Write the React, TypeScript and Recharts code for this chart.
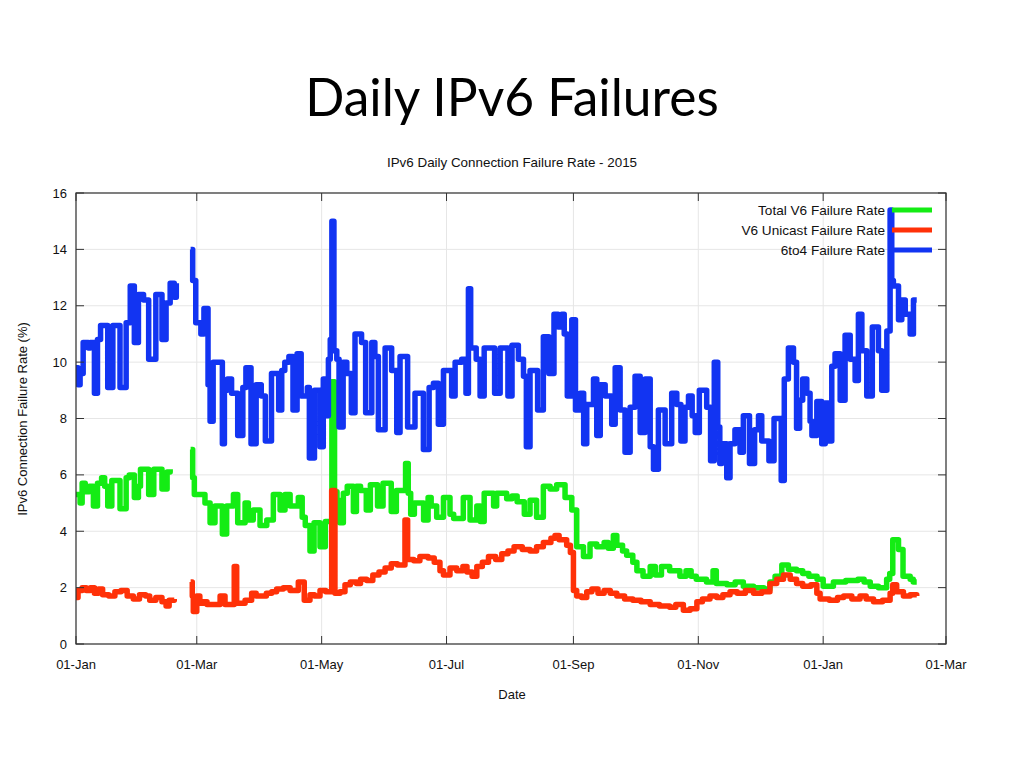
import { LineChart, Line, XAxis, YAxis, CartesianGrid } from 'recharts';

// x = days since 01-Jan-2015, y = daily failure rate (%)
const monthDays = [0, 59, 120, 181, 243, 304, 365, 425];
const monthLabels = ['01-Jan', '01-Mar', '01-May', '01-Jul', '01-Sep', '01-Nov', '01-Jan', '01-Mar'];
const rateTicks = [0, 2, 4, 6, 8, 10, 12, 14, 16];
const seriesNames = ['Total V6 Failure Rate', 'V6 Unicast Failure Rate', '6to4 Failure Rate'];
const seriesColors = ['#14ec14', '#ff3108', '#1234f2'];

type Pt = [number, number | null];

const totalV6: Pt[] = [
  [0, 5.3], [2, 5.0], [3, 5.7], [4.5, 5.4], [6.5, 5.6], [8.5, 4.9], [10.5, 5.7], [12.5, 5.9], [14, 5.6],
  [15.5, 4.9], [17.5, 5.8], [21.5, 4.8], [24.5, 5.9], [26, 6.0], [28.5, 5.2], [30.5, 5.6], [31.5, 6.2],
  [35.5, 5.3], [38, 6.2], [42, 5.5], [44.5, 6.1], [46, 6.2], [50, null],
  [56, 6.9], [57, 5.9], [57.8, 5.3], [63, 5.0], [65.5, 4.3], [67.9, 4.9], [71.5, 3.9], [73.6, 4.9],
  [76.9, 5.3], [79, 4.3], [82.6, 5.0], [84.2, 4.4], [86.6, 4.75], [89.9, 4.2], [93.2, 4.4], [96.4, 5.3],
  [99.7, 4.75], [102.1, 5.3], [104.6, 4.9], [108.6, 5.2], [110.5, 4.5], [112, 4.2], [114.3, 3.3],
  [116.3, 4.3], [119.2, 3.45], [121.8, 4.35], [125, 9.3], [126.3, 5.4], [127.5, 5.1], [128.8, 4.3],
  [130.6, 5.35], [132.5, 5.6], [135.5, 4.7], [137, 5.6], [139, 5.45], [141.8, 4.75], [143.8, 5.65],
  [147.3, 4.9], [150, 5.7], [154, 4.7], [156.5, 5.45], [161, 6.4], [162.3, 5.35], [163.5, 4.6],
  [165.3, 5.0], [169.8, 4.4], [172, 5.2], [173.5, 4.9], [176.2, 4.5], [179.5, 5.2], [182.7, 4.6],
  [184.5, 4.45], [189.2, 5.2], [192.5, 4.4], [195.8, 4.9], [197.5, 4.35], [199.4, 5.35], [204, 4.9],
  [205.5, 5.35], [210.4, 5.15], [213, 5.25], [215.5, 5.05], [219, 4.6], [221.8, 5.1], [225, 4.5],
  [228.3, 5.6], [231.6, 5.5], [234.8, 5.65], [238.9, 5.2], [242.2, 4.75], [244.6, 3.45], [247.9, 3.1],
  [251.1, 3.55], [254.4, 3.45], [258, 3.6], [260, 3.4], [262.5, 3.85], [264.2, 3.5], [267, 3.3],
  [269, 3.15], [272, 2.9], [274, 2.6], [277, 2.4], [280.5, 2.75], [283, 2.45], [286, 2.75], [290, 2.6],
  [295, 2.4], [298, 2.6], [300.5, 2.4], [303, 2.3], [308, 2.2], [311.2, 2.6], [312.8, 2.15], [318, 2.1],
  [322, 2.2], [326, 2.05], [331, 2.0], [336, 1.95], [339, 2.2], [341.5, 2.4], [344.8, 2.8], [348, 2.65],
  [352, 2.6], [355, 2.5], [358, 2.4], [362, 2.3], [365, 2.05], [370, 2.2], [376, 2.25], [382, 2.3],
  [385, 2.2], [388, 2.05], [392, 2.0], [396, 2.3], [397.5, 2.5], [399, 3.7], [401.8, 3.35], [404, 2.4],
  [407.5, 2.3], [409, 2.2], [410.7, 2.2],
];

const unicastV6: Pt[] = [
  [0, 1.65], [1, 1.9], [3, 2.0], [5, 1.9], [7, 2.0], [9, 1.8], [11, 1.95], [13, 1.75], [16, 1.7],
  [19, 1.85], [22, 1.9], [25, 1.7], [28, 1.6], [31, 1.75], [34, 1.7], [36, 1.55], [39, 1.65], [42, 1.5],
  [44, 1.35], [45.5, 1.55], [48, 1.6], [50, null],
  [56, 2.2], [56.8, 1.7], [57.3, 1.15], [59, 1.7], [60.5, 1.45], [62.2, 1.5], [64, 1.4], [70.4, 1.7],
  [72.8, 1.4], [77.3, 2.75], [78.5, 1.45], [82.6, 1.55], [85.8, 1.8], [88, 1.7], [90.7, 1.7], [93, 1.8],
  [95.6, 1.85], [98, 1.95], [101.3, 2.0], [104.6, 1.9], [108.6, 2.2], [111.5, 1.55], [114.3, 1.75],
  [116.5, 1.7], [119.2, 1.9], [122, 1.85], [124.9, 5.45], [126.5, 1.8], [129, 1.85], [131.4, 2.1],
  [134, 2.2], [137, 2.15], [139, 2.3], [142, 2.25], [145, 2.45], [148, 2.55], [151, 2.7], [154, 2.85],
  [157, 2.8], [160.7, 4.4], [162, 3.0], [165, 2.95], [168, 3.1], [172, 3.05], [175, 2.9], [177.8, 2.6],
  [179.5, 2.45], [182.7, 2.7], [186, 2.6], [189, 2.75], [191, 2.55], [193.5, 2.4], [195.8, 2.75],
  [198.5, 2.9], [201.5, 3.1], [205, 3.0], [208, 3.2], [211, 3.3], [214, 3.45], [218, 3.35], [221.8, 3.3],
  [225, 3.45], [228.3, 3.6], [232, 3.75], [234, 3.85], [236, 3.7], [239.7, 3.5], [241.5, 3.25], [243, 1.9],
  [244.6, 1.7], [247, 1.65], [249.5, 1.85], [252, 1.95], [255, 1.8], [258, 1.9], [261, 1.8], [264.2, 1.7],
  [268, 1.6], [272, 1.55], [276, 1.5], [280.5, 1.4], [285, 1.35], [290, 1.3], [293, 1.4], [296.7, 1.2],
  [300, 1.25], [303.3, 1.5], [306, 1.6], [309.7, 1.7], [313, 1.65], [316, 1.75], [319.5, 1.85], [323, 1.8],
  [327, 1.9], [331, 1.8], [335, 1.85], [339, 2.15], [342.3, 2.3], [345.6, 2.45], [348.9, 2.3], [352, 2.15],
  [355, 2.05], [359, 2.1], [361.9, 1.8], [363.5, 1.6], [368, 1.55], [372, 1.65], [375, 1.7], [379, 1.6],
  [383, 1.7], [386, 1.6], [389.6, 1.5], [394, 1.55], [397.7, 1.8], [399, 2.1], [400.9, 1.85], [404.2, 1.7],
  [407.5, 1.75], [410.7, 1.7],
];

const sixToFour: Pt[] = [
  [0, 9.8], [1, 9.2], [2, 9.6], [3.5, 10.7], [6, 10.5], [7, 10.7], [9, 8.9], [10.5, 10.8], [12, 11.3],
  [15.5, 9.1], [18, 11.3], [21.5, 9.1], [24.5, 11.4], [26.5, 12.7], [28.5, 10.7], [30.5, 12.4], [33, 12.2],
  [35.5, 10.1], [39, 12.4], [42, 10.8], [44, 12.1], [46, 12.8], [48, 12.3], [49, 12.8], [50, null],
  [56, 14.0], [57, 12.9], [58.5, 11.4], [61, 11.0], [62.5, 11.9], [64.5, 9.2], [65.5, 7.9], [67, 10.0],
  [71.5, 7.1], [72.5, 9.0], [74, 9.4], [76, 8.9], [79, 7.4], [81.5, 9.1], [83, 9.8], [85.5, 7.1], [88, 9.2],
  [90.5, 8.8], [92.5, 7.2], [95.5, 9.6], [99, 8.3], [100.5, 9.7], [102, 10.0], [104, 10.2], [106, 8.3],
  [108, 10.3], [110, 8.8], [113, 9.1], [114, 6.6], [116.5, 9.0], [119.2, 7.0], [120.8, 9.4], [122.5, 8.1],
  [123.3, 10.1], [124.2, 10.8], [125, 15.0], [126, 10.4], [127.4, 10.1], [128.5, 7.7], [130.5, 10.0],
  [132.3, 9.6], [134.5, 8.2], [136.3, 11.0], [139.5, 10.7], [141.5, 8.2], [144.5, 10.7], [146, 10.2],
  [147.7, 7.6], [151, 10.5], [154.2, 9.7], [156.7, 7.5], [158.3, 10.2], [162, 7.7], [165.6, 8.9],
  [169.7, 6.9], [172.5, 9.1], [174.6, 9.25], [177, 7.8], [179.5, 9.7], [183.5, 8.8], [185.2, 10.0],
  [188.4, 10.1], [190.5, 8.9], [191.7, 12.6], [192.8, 10.5], [195.5, 10.1], [197.4, 8.8], [199.4, 10.5],
  [204.5, 8.9], [207.2, 10.5], [211, 8.8], [213, 10.6], [216.1, 10.1], [218.6, 9.5], [220, 7.0],
  [221.8, 9.7], [225.5, 8.3], [228.3, 10.9], [231, 9.6], [233.5, 11.7], [235.5, 11.25], [237.3, 11.7],
  [238.5, 11.0], [240, 8.8], [242.2, 11.5], [244, 8.3], [246.3, 8.9], [248, 7.1], [249.5, 8.5],
  [252.8, 9.4], [254.4, 7.4], [256.1, 9.2], [258.5, 8.8], [261.7, 7.8], [263.4, 9.8], [265.8, 8.3],
  [268.2, 6.8], [270.7, 8.4], [273.1, 9.5], [275.6, 7.5], [278, 9.4], [280.5, 7.0], [282.1, 6.2],
  [284.5, 8.3], [287.8, 7.1], [291, 8.9], [293.5, 8.5], [295.5, 7.2], [297.5, 8.4], [299.2, 8.8],
  [301, 8.1], [302.5, 7.5], [304.5, 9.0], [308.1, 8.4], [310, 6.5], [311.8, 10.0], [313.5, 7.7],
  [314.5, 6.4], [315.5, 7.1], [317.9, 5.9], [319.5, 7.1], [321.9, 7.6], [324.4, 6.8], [326, 8.1],
  [329, 6.4], [331.5, 7.6], [333.4, 8.1], [335, 7.2], [338.5, 6.5], [341, 8.0], [344.5, 5.8], [346, 9.4],
  [348, 10.5], [350.5, 10.0], [352, 7.65], [353.5, 8.65], [355, 9.4], [357, 8.9], [358.6, 7.9],
  [359.5, 7.4], [361.9, 8.6], [364.3, 7.1], [366, 8.55], [367.6, 7.2], [369.2, 9.85], [370.8, 10.3],
  [373.3, 8.65], [375.7, 10.95], [378.2, 10.1], [380.6, 9.35], [382.2, 11.7], [383.9, 10.4], [386.3, 8.8],
  [389, 11.25], [392, 10.4], [393.6, 9.0], [396.1, 11.1], [397.7, 15.4], [398.5, 12.9], [399.3, 12.7],
  [401.8, 11.5], [403.4, 12.2], [405.1, 11.7], [407.5, 11.0], [409.1, 12.2], [410.7, 12.2],
];

const seriesData = [totalV6, unicastV6, sixToFour];

const PLOT = { left: 76, right: 946, top: 193, bottom: 644 };
const AXIS = '#333';
const FONT = '"Liberation Sans", Arial, Helvetica, sans-serif';

// six subdivisions between month ticks, like the original gnuplot axis
const minorDays = monthDays.slice(0, -1).flatMap((d, i) =>
  [1, 2, 3, 4, 5].map((k) => d + ((monthDays[i + 1] - d) * k) / 6)
);

const toRows = (pts: Pt[]) => pts.map(([day, rate]) => ({ day, rate }));

function MajorTick(props: any) {
  const { x, payload } = props;
  const i = monthDays.indexOf(payload.value);
  return (
    <g>
      <line x1={x} x2={x} y1={PLOT.bottom} y2={PLOT.bottom - 8} stroke={AXIS} />
      <line x1={x} x2={x} y1={PLOT.top} y2={PLOT.top + 8} stroke={AXIS} />
      <text x={x} y={PLOT.bottom + 25} textAnchor="middle" fontFamily={FONT} fontSize={13} fill="#111">
        {monthLabels[i]}
      </text>
    </g>
  );
}

function MinorTick(props: any) {
  const { x } = props;
  return (
    <g>
      <line x1={x} x2={x} y1={PLOT.bottom} y2={PLOT.bottom - 5} stroke={AXIS} />
      <line x1={x} x2={x} y1={PLOT.top} y2={PLOT.top + 5} stroke={AXIS} />
    </g>
  );
}

function RateTick(props: any) {
  const { y, payload } = props;
  return (
    <g>
      <line x1={PLOT.left} x2={PLOT.left + 8} y1={y} y2={y} stroke={AXIS} />
      <line x1={PLOT.right} x2={PLOT.right - 8} y1={y} y2={y} stroke={AXIS} />
      <text x={PLOT.left - 9} y={y + 4.5} textAnchor="end" fontFamily={FONT} fontSize={13} fill="#111">
        {payload.value}
      </text>
    </g>
  );
}

export default function App() {
  return (
    <div style={{ position: 'absolute', left: 0, top: 0, width: 1024, height: 768, background: '#fff' }}>
      <div style={{ position: 'absolute', left: 0, top: 0 }}>
        <LineChart
          width={1024}
          height={768}
          margin={{ top: PLOT.top, right: 1024 - PLOT.right, bottom: 768 - PLOT.bottom - 30, left: PLOT.left - 40 }}
        >
          <CartesianGrid stroke="#e6e6e6" />
          <XAxis
            dataKey="day"
            type="number"
            domain={[0, 425]}
            ticks={monthDays}
            interval={0}
            allowDataOverflow
            axisLine={false}
            tickLine={false}
            height={30}
            tick={(p: any) => <MajorTick {...p} />}
          />
          <XAxis
            xAxisId="minor"
            dataKey="day"
            type="number"
            domain={[0, 425]}
            ticks={minorDays}
            interval={0}
            allowDataOverflow
            axisLine={false}
            tickLine={false}
            height={0}
            tick={(p: any) => <MinorTick {...p} />}
          />
          <YAxis
            type="number"
            domain={[0, 16]}
            ticks={rateTicks}
            interval={0}
            axisLine={false}
            tickLine={false}
            width={40}
            tick={(p: any) => <RateTick {...p} />}
          />
          {seriesData.map((pts, i) => (
            <Line
              key={seriesNames[i]}
              data={toRows(pts)}
              dataKey="rate"
              name={seriesNames[i]}
              type="stepAfter"
              stroke={seriesColors[i]}
              strokeWidth={5.5}
              strokeLinejoin="round"
              dot={false}
              activeDot={false}
              connectNulls={false}
              isAnimationActive={false}
            />
          ))}
        </LineChart>
      </div>
      <svg width={1024} height={768} style={{ position: 'absolute', left: 0, top: 0, pointerEvents: 'none' }}>
        <rect
          x={PLOT.left}
          y={PLOT.top}
          width={PLOT.right - PLOT.left}
          height={PLOT.bottom - PLOT.top}
          fill="none"
          stroke={AXIS}
          strokeWidth={1.2}
        />
        <text x={512} y={116} textAnchor="middle" fontFamily="Lato, 'Open Sans', sans-serif" fontSize={51.5} fill="#000">
          Daily IPv6 Failures
        </text>
        <text x={512} y={167} textAnchor="middle" fontFamily={FONT} fontSize={13.4} fill="#111">
          IPv6 Daily Connection Failure Rate - 2015
        </text>
        <text x={512} y={699} textAnchor="middle" fontFamily={FONT} fontSize={13} fill="#111">
          Date
        </text>
        <text
          transform="translate(27, 419) rotate(-90)"
          textAnchor="middle"
          fontFamily={FONT}
          fontSize={13}
          fill="#111"
        >
          IPv6 Connection Failure Rate (%)
        </text>
        {seriesNames.map((name, i) => (
          <g key={name}>
            <text x={885} y={214.5 + i * 20} textAnchor="end" fontFamily={FONT} fontSize={13.6} fill="#111">
              {name}
            </text>
            <line x1={892} x2={932} y1={210 + i * 20} y2={210 + i * 20} stroke={seriesColors[i]} strokeWidth={5} />
          </g>
        ))}
      </svg>
    </div>
  );
}
